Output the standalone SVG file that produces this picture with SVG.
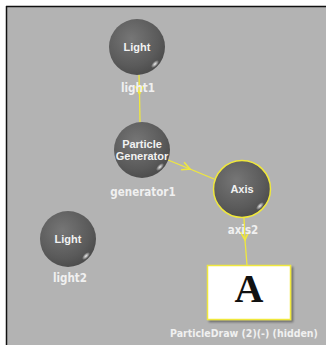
<svg xmlns="http://www.w3.org/2000/svg" width="326" height="345" viewBox="0 0 326 345">
<defs>
<radialGradient id="ball" cx="0.4" cy="0.35" r="0.7">
<stop offset="0" stop-color="#767676"/>
<stop offset="0.7" stop-color="#5a5a5a"/>
<stop offset="1" stop-color="#4a4a4a"/>
</radialGradient>
<radialGradient id="hl" cx="0.5" cy="0.5" r="0.5">
<stop offset="0" stop-color="#ffffff" stop-opacity="0.9"/>
<stop offset="1" stop-color="#ffffff" stop-opacity="0"/>
</radialGradient>
<marker id="chev" viewBox="0 0 10 10" refX="9" refY="5" markerWidth="10" markerHeight="10" markerUnits="userSpaceOnUse" orient="auto">
<path d="M1,1 L9,5 L1,9" fill="none" stroke="#f0e83c" stroke-width="1.6"/>
</marker>
<filter id="sh" x="-20%" y="-20%" width="140%" height="140%">
<feOffset dx="2" dy="2" in="SourceAlpha"/>
<feGaussianBlur stdDeviation="1"/>
<feColorMatrix values="0 0 0 0 0 0 0 0 0 0 0 0 0 0 0 0 0 0 0.4 0"/>
<feMerge><feMergeNode/><feMergeNode in="SourceGraphic"/></feMerge>
</filter>
</defs>
<style>
.nm{font-family:"Liberation Sans",Arial,sans-serif;font-size:11px;font-weight:bold;fill:#f2f2f2;text-anchor:middle}
.lb{font-family:"DejaVu Sans Condensed","Liberation Sans",sans-serif;font-size:11.5px;font-weight:bold;fill:#f0f0f0;text-anchor:middle}
.ball{fill:url(#ball)}
.edge{stroke:#f0e83c;stroke-width:1.3;fill:none}
</style>
<rect width="326" height="345" fill="#ffffff"/>
<rect x="6" y="6" width="320" height="339" fill="#b3b3b3"/>
<line x1="6.5" y1="6" x2="6.5" y2="345" stroke="#111" stroke-width="1.5"/>
<line x1="6" y1="6.5" x2="326" y2="6.5" stroke="#111" stroke-width="1.5"/>
<g id="connectors">
<path class="edge" d="M139,75 L139.5,94" marker-end="url(#chev)"/>
<path class="edge" d="M139.5,94 L140,122"/>
<path class="edge" d="M168,160 L190,169" marker-end="url(#chev)"/>
<path class="edge" d="M190,169 L214,179"/>
<path class="edge" d="M244,218 L245,240" marker-end="url(#chev)"/>
<path class="edge" d="M245,240 L247,265"/>
</g>
<g id="light1">
<circle class="ball" cx="137" cy="47" r="28"/>
<ellipse cx="155" cy="64" rx="5" ry="2.5" fill="url(#hl)" transform="rotate(-45 155 64)"/>
<text class="nm" x="137" y="51">Light</text>
<text class="lb" x="138" y="92">light1</text>
</g>
<g id="generator1">
<circle class="ball" cx="142" cy="150" r="28"/>
<ellipse cx="160" cy="167" rx="5" ry="2.5" fill="url(#hl)" transform="rotate(-45 160 167)"/>
<text class="nm" x="142" y="148">Particle</text>
<text class="nm" x="142" y="160">Generator</text>
<text class="lb" x="143" y="196">generator1</text>
</g>
<g id="axis2">
<circle class="ball" cx="242" cy="189" r="28.5" stroke="#f0e83c" stroke-width="1.5"/>
<ellipse cx="260" cy="206" rx="5" ry="2.5" fill="url(#hl)" transform="rotate(-45 260 206)"/>
<text class="nm" x="242" y="193">Axis</text>
<text class="lb" x="243" y="234">axis2</text>
</g>
<g id="light2">
<circle class="ball" cx="68" cy="239" r="28"/>
<ellipse cx="86" cy="256" rx="5" ry="2.5" fill="url(#hl)" transform="rotate(-45 86 256)"/>
<text class="nm" x="68" y="243">Light</text>
<text class="lb" x="70" y="282">light2</text>
</g>
<g id="particledraw">
<rect x="207.5" y="265.5" width="83" height="54" fill="#ffffff" stroke="#f0e83c" stroke-width="1.5" filter="url(#sh)"/>
<text x="249" y="302" font-family="'Liberation Serif','Times New Roman',serif" font-size="40" font-weight="bold" fill="#111" text-anchor="middle">A</text>
<text class="lb" x="170" y="337" style="text-anchor:start;font-size:10.5px">ParticleDraw (2)(-) (hidden)</text>
</g>
</svg>
